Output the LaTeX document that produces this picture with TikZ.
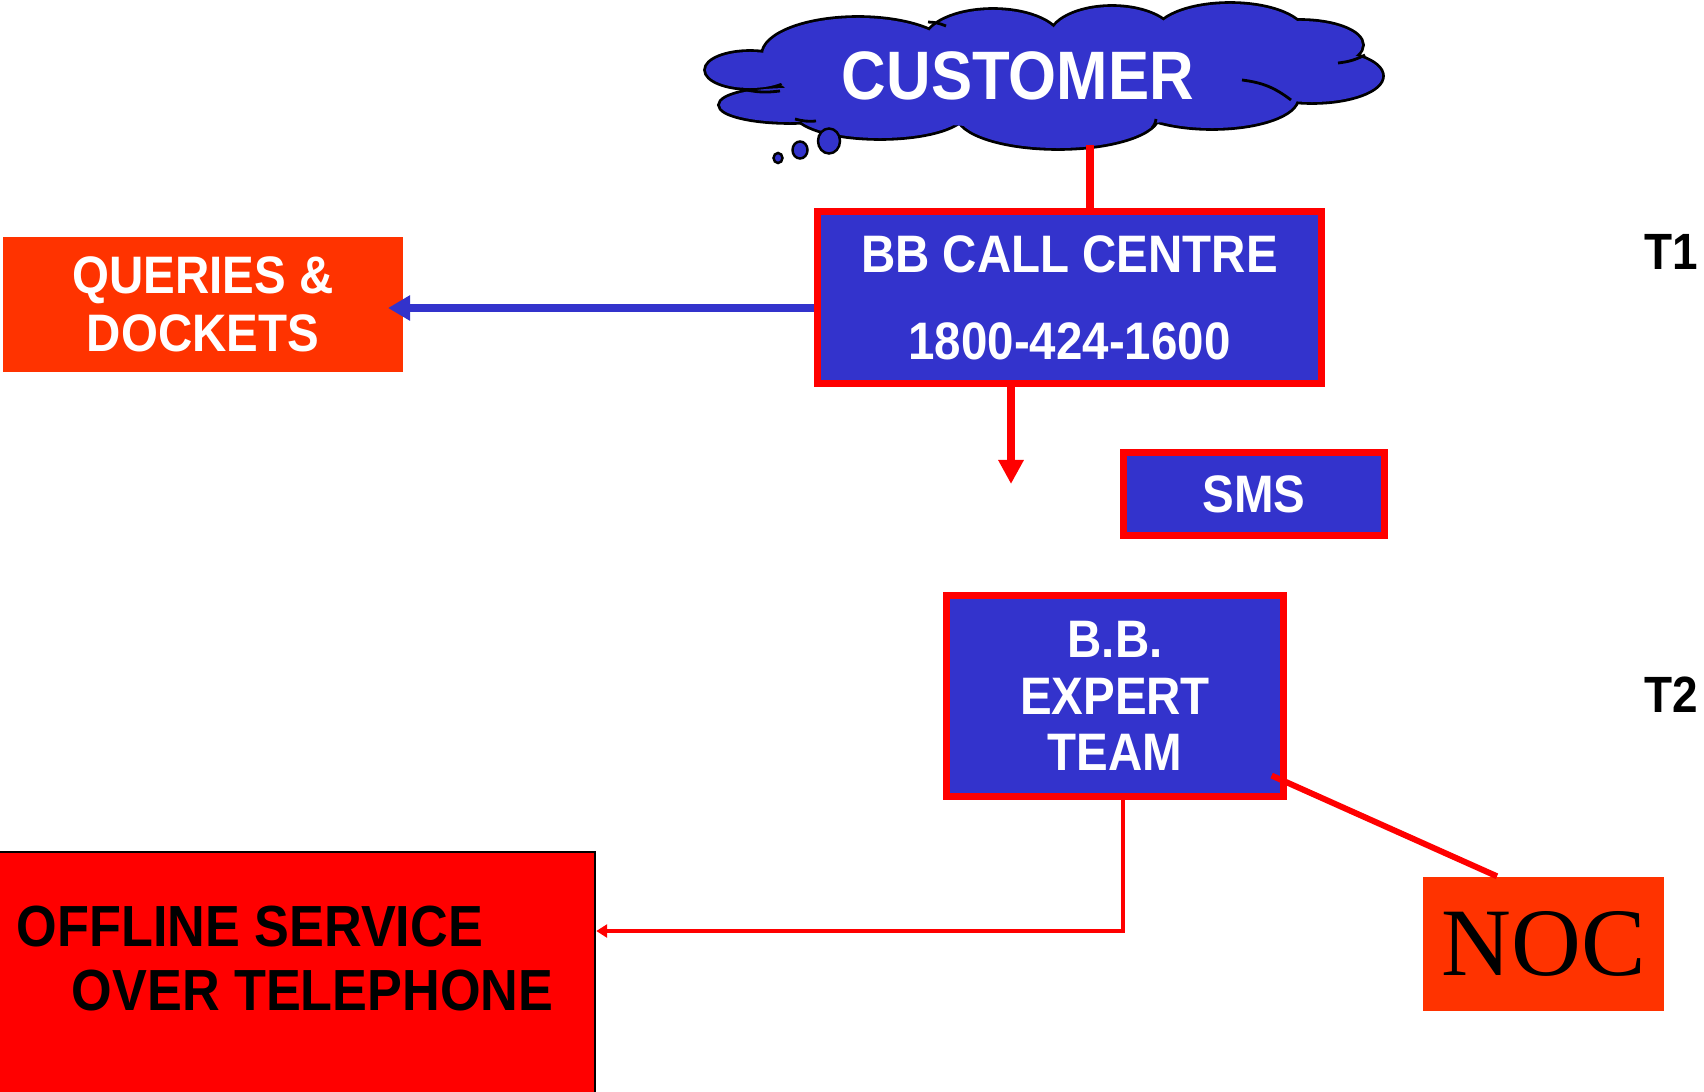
\documentclass[tikz,border=0pt]{standalone}
\usepackage{fontspec}
\setmainfont{Liberation Sans}
\newfontfamily\narrowsans[FakeStretch=0.9]{Liberation Sans}
\newfontfamily\timesfont{Liberation Serif}
\usetikzlibrary{arrows.meta}
\definecolor{ppblue}{HTML}{3333CC}
\definecolor{ppred}{HTML}{FF0000}
\definecolor{pporange}{HTML}{FF3300}

\begin{document}
\begin{tikzpicture}[x=0.01cm,y=-0.01cm,
    bluebox/.style={draw=ppred,line width=2pt,fill=ppblue,text=white,align=center,inner sep=0pt,
      font=\narrowsans\bfseries\fontsize{15}{16}\selectfont},
    orangebox/.style={fill=pporange,inner sep=0pt,align=center},
    redline/.style={draw=ppred,line width=2.2pt},
    redarrow/.style={draw=ppred,line width=2.2pt,-{Triangle[width=0.24cm,length=0.24cm]}},
    bluearrow/.style={draw=ppblue,line width=2pt,-{Triangle[width=0.24cm,length=0.22cm]}},
    thinarrow/.style={draw=ppred,line width=1pt,-{Triangle[width=0.13cm,length=0.11cm]}},
    bubble/.style={draw=black,line width=0.7pt,fill=ppblue},
    crease/.style={draw=black,line width=0.8pt},
    tierlabel/.style={anchor=west,inner sep=0pt,font=\narrowsans\bfseries\fontsize{14.5}{16}\selectfont}]
  \useasboundingbox (0,0) rectangle (1704,1091);

  % customer cloud: outline first, then fill over the inner strokes
  \foreach \cx/\cy/\rx/\ry in {750/70/44/18,790/105/70/17,880/112/85/26,1058/115/100/33,
      1212/98/85/30,1312/76/70/26,1300/45/62/24,1230/35/75/31,1112/38/62/31,993/42/68/32,858/55/95/37}
    \draw[line width=1.6pt] (\cx,\cy) ellipse [x radius=\rx*0.2845pt,y radius=\ry*0.2845pt];
  \foreach \cx/\cy/\rx/\ry in {750/70/44/18,790/105/70/17,880/112/85/26,1058/115/100/33,
      1212/98/85/30,1312/76/70/26,1300/45/62/24,1230/35/75/31,1112/38/62/31,993/42/68/32,858/55/95/37,
      1040/78/260/50}
    \fill[ppblue] (\cx,\cy) ellipse [x radius=\rx*0.2845pt,y radius=\ry*0.2845pt];
  \draw[crease] (742,89) to[bend right=10] (780,91);
  \draw[crease] (795,119) to[bend right=10] (816,121);
  \draw[crease] (1156,119) to[bend left=15] (1152,128);
  \draw[crease] (1242,80) to[bend left=15] (1291,100);
  \draw[crease] (1338,63) to[bend right=10] (1365,55);
  \draw[crease] (928,22) to[bend left=10] (946,26);
  \draw[bubble] (778,158) ellipse [x radius=0.045cm,y radius=0.05cm];
  \draw[bubble] (800,150) ellipse [x radius=0.075cm,y radius=0.085cm];
  \draw[bubble] (829,141) ellipse [x radius=0.11cm,y radius=0.125cm];
  \node[text=white,inner sep=0pt,font=\narrowsans\bfseries\fontsize{19.5}{20}\selectfont]
    (customer) at (1018,76) {CUSTOMER};

  % boxes
  \node[bluebox,font=\narrowsans\bfseries\fontsize{15}{24.7}\selectfont,
    minimum width=5.03cm,minimum height=1.71cm] (callcentre) at (1069.5,297.5)
    {BB CALL CENTRE\\1800-424-1600};
  \node[orangebox,text=white,font=\narrowsans\bfseries\fontsize{15}{16.5}\selectfont,
    minimum width=4cm,minimum height=1.35cm] (queries) at (203,304.5) {QUERIES \&\\DOCKETS};
  \node[bluebox,minimum width=2.615cm,minimum height=0.835cm] (sms) at (1254,494) {SMS};
  \node[bluebox,minimum width=3.36cm,minimum height=2cm] (expert) at (1115,696)
    {B.B.\\EXPERT\\TEAM};
  \node[orangebox,text=black,font=\timesfont\fontsize{27.5}{30}\selectfont,
    minimum width=2.41cm,minimum height=1.34cm] (noc) at (1543.5,944) {NOC};
  \node[draw=black,line width=0.6pt,fill=ppred,minimum width=6cm,minimum height=2.5cm,
    inner sep=0pt] (offline) at (295,977) {};
  \node[anchor=west,inner sep=0pt,align=left,font=\narrowsans\bfseries\fontsize{16.5}{18.2}\selectfont]
    (offlinelabel) at (16,959) {OFFLINE SERVICE\\\hspace*{0.55cm}OVER TELEPHONE};

  \node[tierlabel] (tone) at (1644,252) {T1};
  \node[tierlabel] (ttwo) at (1644,695) {T2};

  % connectors
  \coordinate (cloudfoot) at (1090,145);
  \coordinate (droptip) at (1011,484);
  \coordinate (querytip) at (388,308);
  \coordinate (offbend) at (1123,931);
  \draw[redline] (cloudfoot) -- (cloudfoot |- callcentre.north);
  \draw[bluearrow] (querytip -| callcentre.west) -- (querytip);
  \draw[redarrow] (droptip |- callcentre.south) -- (droptip);
  \draw[redline,line width=1.7pt] ([shift={(-0.15cm,0.24cm)}]expert.south east) -- ([xshift=-0.465cm]noc.north);
  \draw[thinarrow] (offbend |- expert.south) |- (offbend -| offline.east);
\end{tikzpicture}
\end{document}
